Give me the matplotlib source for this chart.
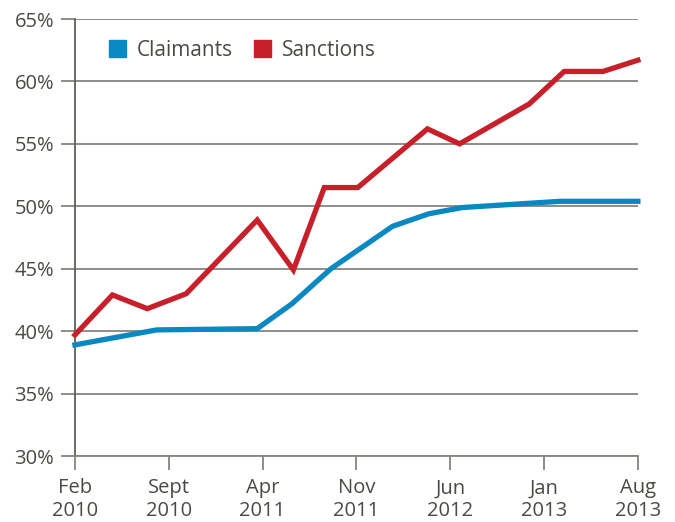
import matplotlib.pyplot as plt
from matplotlib.patches import Patch

# months counted from Feb 2010
sanctions_x = [0, 2.8, 5.4, 8.3, 13.6, 16.3, 18.6, 21.1, 26.3, 28.7, 33.9, 36.5, 39.4, 42]
sanctions_y = [39.7, 42.9, 41.8, 43.0, 48.9, 44.9, 51.5, 51.5, 56.2, 55.0, 58.2, 60.8, 60.8, 61.7]

claimants_x = [0, 6.1, 13.6, 16.2, 19.1, 23.7, 26.4, 28.9, 36.2, 42]
claimants_y = [38.9, 40.1, 40.2, 42.2, 45.0, 48.4, 49.4, 49.9, 50.4, 50.4]

tick_pos = [0, 7, 14, 21, 28, 35, 42]
tick_labels = ['Feb\n2010', 'Sept\n2010', 'Apr\n2011', 'Nov\n2011', 'Jun\n2012', 'Jan\n2013', 'Aug\n2013']

blue = '#0a88c2'
red = '#c8202a'
text_col = '#4a4a45'
grid_col = '#86847e'

plt.rcParams['font.family'] = ['Open Sans', 'DejaVu Sans']

fig = plt.figure(figsize=(6.75, 5.22), dpi=100)
ax = fig.add_axes([0.111, 0.1264, 0.834, 0.8372])

ax.plot(claimants_x, claimants_y, color=blue, lw=3.8, solid_joinstyle='miter', clip_on=False, zorder=3)
ax.plot(sanctions_x, sanctions_y, color=red, lw=3.8, solid_joinstyle='miter', clip_on=False, zorder=4)

ax.set_xlim(0, 42)
ax.set_ylim(30, 65)
ax.set_yticks(range(30, 66, 5))
ax.set_yticklabels([f'{v}%' for v in range(30, 66, 5)])
ax.set_xticks(tick_pos)
ax.set_xticklabels(tick_labels, linespacing=1.2)

ax.grid(axis='y', color=grid_col, lw=1.3)
ax.set_axisbelow(True)
for s in ['top', 'right']:
    ax.spines[s].set_visible(False)
ax.spines['left'].set_color('#5f5e58')
ax.spines['left'].set_linewidth(1.3)
ax.spines['bottom'].set_color(grid_col)
ax.spines['bottom'].set_linewidth(1.3)

ax.tick_params(axis='y', length=10, width=1.3, color=grid_col, labelsize=14.5, labelcolor=text_col, pad=5)
ax.tick_params(axis='x', length=10, width=1.3, color=grid_col, labelsize=14.5, labelcolor=text_col, pad=6)

handles = [Patch(color=blue, label='Claimants'), Patch(color=red, label='Sanctions')]
leg = ax.legend(handles=handles, loc='center left', bbox_to_anchor=(0.06, 0.929), ncol=2,
                frameon=False, borderpad=0, borderaxespad=0, handlelength=0.85, handleheight=0.85,
                handletextpad=0.5, columnspacing=1.0, fontsize=15)
for t in leg.get_texts():
    t.set_color(text_col)

fig.savefig('out.png', dpi=100)
